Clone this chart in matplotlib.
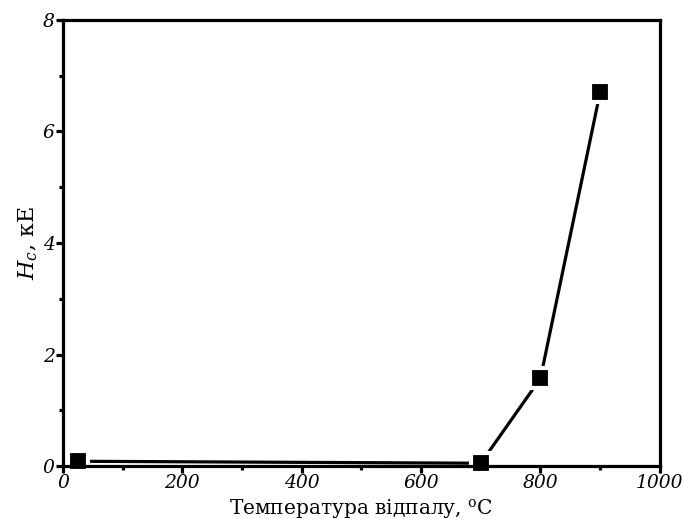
import matplotlib.pyplot as plt
from matplotlib.ticker import MultipleLocator

temps = [25, 700, 800, 900]
hc = [0.085, 0.05, 1.57, 6.70]

plt.rcParams['font.family'] = 'DejaVu Serif'
plt.rcParams['mathtext.fontset'] = 'dejavuserif'

fig = plt.figure(figsize=(6.82, 5.19), dpi=100)
ax = fig.add_axes([0.0924, 0.1021, 0.875, 0.8594])

ax.plot(temps, hc, color='black', lw=2.3, marker='s', ms=15,
        markerfacecolor='black', markeredgecolor='white', mew=3,
        clip_on=False, zorder=3)

ax.set_xlim(0, 1000)
ax.set_ylim(0, 8)
ax.xaxis.set_major_locator(MultipleLocator(200))
ax.xaxis.set_minor_locator(MultipleLocator(100))
ax.yaxis.set_major_locator(MultipleLocator(2))
ax.yaxis.set_minor_locator(MultipleLocator(1))

for s in ax.spines.values():
    s.set_linewidth(2.3)
    s.set_zorder(4)

ax.tick_params(which='major', direction='out', length=5, width=2.3,
               labelsize=13.5, pad=1)
ax.tick_params(which='minor', direction='out', length=3, width=2.3)
for lab in ax.get_xticklabels() + ax.get_yticklabels():
    lab.set_fontstyle('italic')

ax.set_xlabel('Температура відпалу, $^{\\rm o}$C', fontsize=14.5, labelpad=3)
ax.set_ylabel('$H_c$, кЕ', fontsize=16, labelpad=2)

fig.savefig('out.png', dpi=100)
